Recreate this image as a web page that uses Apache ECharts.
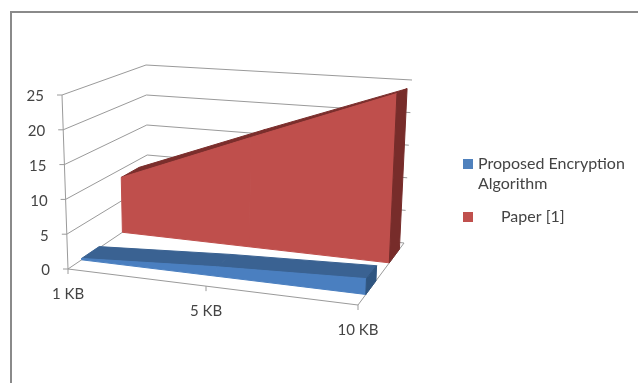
<!doctype html>
<html lang="en">
<head>
<title>3D area chart</title>
<meta charset="UTF-8"/>
<script src="https://cdn.jsdelivr.net/npm/echarts@6/dist/echarts.min.js"></script>
<style>
html, body { margin: 0; padding: 0; background: #fff; }
</style>
</head>
<body>
<div id="main" style="width: 638px; height: 383px;"></div>
<script type="text/javascript">
var categories = ['1 KB', '5 KB', '10 KB'];
var valueTicks = [0, 5, 10, 15, 20, 25];
var proposedValues = [0.2, 1.3, 2.0];
var paperValues = [8.7, 16.4, 24];

// the hidden cartesian grid is the front plane of the box, project() tilts it
var gridBox = { left: 68, top: 95, width: 290, height: 174 };
// corners of the box in pixels: f/b front/back, l/r left/right
var floorFL = [68, 269], floorFR = [358, 305], floorBR = [404, 243], floorBL = [148, 215];
var topFL = [62, 95], topFR = [366, 100], topBR = [412, 80], topBL = [146, 65];
var uWarp = 0.908;

function mix(a, b, t) {
	return [a[0] + (b[0] - a[0]) * t, a[1] + (b[1] - a[1]) * t];
}

function project(pt, depth) {
	var u = (pt[0] - gridBox.left) / gridBox.width;
	var v = (gridBox.top + gridBox.height - pt[1]) / gridBox.height;
	u = uWarp * u / (1 + (uWarp - 1) * u); // far side of the axis is squeezed
	var floor = mix(mix(floorFL, floorFR, u), mix(floorBL, floorBR, u), depth);
	var roof = mix(mix(topFL, topFR, u), mix(topBL, topBR, u), depth);
	return mix(floor, roof, v);
}

function poly(points, color) {
	return { type: 'polygon', shape: { points: points }, style: { fill: color, stroke: color, lineWidth: 1 }, silent: true };
}

function line(a, b) {
	return { type: 'line', shape: { x1: a[0], y1: a[1], x2: b[0], y2: b[1] }, style: { stroke: '#9a9a9a', lineWidth: 1 }, silent: true };
}

function label(text, p, align) {
	return { type: 'text', style: { text: text, x: p[0], y: p[1], align: align, verticalAlign: 'middle', fill: '#444', font: '15px Lato' }, silent: true };
}

function renderValueTick(params, api) {
	var v = api.value(1);
	var last = categories.length - 1;
	var a = api.coord([0, v]);
	var b = api.coord([last, v]);
	var p0 = project(a, 0), p1 = project(a, 1), p2 = project(b, 1);
	var children = [line(p0, p1), line(p1, p2), line(p0, [p0[0] - 5, p0[1]])];
	children.push(label(String(v), [p0[0] - 18, p0[1] + 1.5], 'right'));
	if (v === 0) {
		var q = project(b, 0);
		children.push(line(p0, q), line(q, p2));
		children.push(line(p0, project(api.coord([0, 25]), 0)));
	}
	return { type: 'group', children: children };
}

function renderCategory(params, api) {
	var i = api.value(0);
	var p = project(api.coord([i, 0]), 0);
	return { type: 'group', children: [
		line(p, [p[0], p[1] + 5]),
		label(categories[i], [p[0], p[1] + 25], 'center')
	] };
}

// one segment of a 3D band between the point i and i+1
function bandRenderer(values, front, back, frontColor, topColor, sideColor) {
	return function (params, api) {
		var i = api.value(0);
		if (i >= values.length - 1) {
			var t = api.coord([i, api.value(1)]);
			var g = api.coord([i, 0]);
			return poly([project(g, front), project(t, front), project(t, back), project(g, back)], sideColor);
		}
		var a = api.coord([i, api.value(1)]);
		var b = api.coord([i + 1, values[i + 1]]);
		var a0 = api.coord([i, 0]);
		var b0 = api.coord([i + 1, 0]);
		return { type: 'group', children: [
			poly([project(a, front), project(b, front), project(b, back), project(a, back)], topColor),
			poly([project(a0, front), project(b0, front), project(b, front), project(a, front)], frontColor)
		] };
	};
}

function pairs(values) {
	return values.map(function (v, i) { return [i, v]; });
}

var myChart = echarts.init(document.getElementById('main'));
var option = {
	animation: false,
	backgroundColor: '#fff',
	grid: gridBox,
	xAxis: { type: 'category', data: categories, boundaryGap: false, show: false },
	yAxis: { type: 'value', min: 0, max: 25, interval: 5, show: false },
	legend: {
		orient: 'vertical',
		left: 463,
		top: 134,
		padding: 0,
		itemWidth: 10,
		itemHeight: 10,
		itemGap: 13,
		icon: 'rect',
		// blank first line keeps the swatch level with the first text line
		formatter: function (name) {
			return name.indexOf('\n') >= 0 ? '\n' + name : name;
		},
		textStyle: { fontFamily: 'Lato', fontSize: 16, color: '#444', lineHeight: 20 },
		data: [
			{ name: 'Proposed Encryption\nAlgorithm' },
			{ name: 'Paper [1]', textStyle: { padding: [0, 0, 0, 23] } }
		]
	},
	graphic: [
		{ type: 'line', shape: { x1: 10, y1: 12, x2: 638, y2: 12 }, style: { stroke: '#8a8a8a', lineWidth: 2 }, silent: true },
		{ type: 'line', shape: { x1: 11, y1: 12, x2: 11, y2: 383 }, style: { stroke: '#8a8a8a', lineWidth: 2 }, silent: true }
	],
	series: [
		{ type: 'custom', name: 'valueAxis', silent: true, z: 1, renderItem: renderValueTick, data: valueTicks.map(function (v) { return [0, v]; }) },
		{ type: 'custom', name: 'categoryAxis', silent: true, z: 1, renderItem: renderCategory, data: categories.map(function (c, i) { return [i, 0]; }) },
		{
			type: 'custom',
			name: 'Paper [1]',
			silent: true,
			z: 2,
			itemStyle: { color: '#c0504d' },
			renderItem: bandRenderer(paperValues, 0.68, 0.9, '#bf4f4c', '#7b2e2c', '#772c2a'),
			data: pairs(paperValues)
		},
		{
			type: 'custom',
			name: 'Proposed Encryption\nAlgorithm',
			silent: true,
			z: 3,
			itemStyle: { color: '#4f81bd' },
			renderItem: bandRenderer(proposedValues, 0.17, 0.39, '#4a7fc0', '#3a6292', '#2f5580'),
			data: pairs(proposedValues)
		}
	]
};
myChart.setOption(option);
</script>
</body>
</html>
